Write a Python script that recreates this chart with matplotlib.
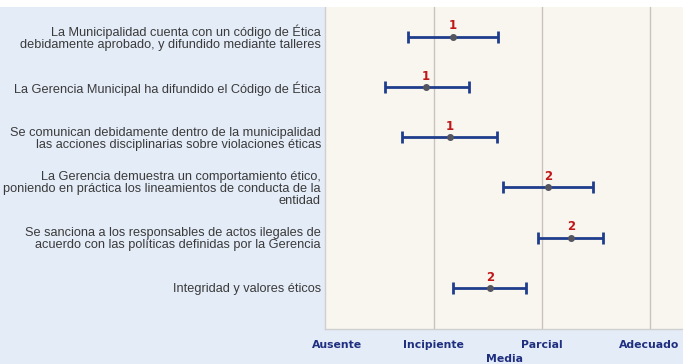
import matplotlib
matplotlib.use("Agg")
import matplotlib.pyplot as plt
import matplotlib.transforms as mtransforms
from matplotlib.patches import Rectangle

categories = [
    "La Municipalidad cuenta con un código de Ética\ndebidamente aprobado, y difundido mediante talleres",
    "La Gerencia Municipal ha difundido el Código de Ética",
    "Se comunican debidamente dentro de la municipalidad\nlas acciones disciplinarias sobre violaciones éticas",
    "La Gerencia demuestra un comportamiento ético,\nponiendo en práctica los lineamientos de conducta de la\nentidad",
    "Se sanciona a los responsables de actos ilegales de\nacuerdo con las políticas definidas por la Gerencia",
    "Integridad y valores éticos",
]
means = [1.18, 0.93, 1.15, 2.06, 2.27, 1.52]
lower = [0.76, 0.55, 0.71, 1.64, 1.97, 1.18]
upper = [1.60, 1.33, 1.59, 2.48, 2.57, 1.86]
point_labels = ["1", "1", "1", "2", "2", "2"]
tick_values = [0, 1, 2, 3]
tick_labels = ["Ausente", "Incipiente", "Parcial", "Adecuado"]

fig = plt.figure(figsize=(6.83, 3.64), dpi=100, facecolor="#e4ecf8")
fig.patches.append(Rectangle((0, 0.981), 1, 0.02, transform=fig.transFigure,
                             facecolor="white", edgecolor="none", zorder=0))
ax = fig.add_axes([0.476, 0.096, 0.524, 0.885])
ax.set_facecolor("#f9f6ef")

ypos = list(range(len(categories)))
for y, m, lo, hi, lab in zip(ypos, means, lower, upper, point_labels):
    ax.errorbar([m], [y], xerr=[[m - lo], [hi - m]], fmt="none",
                ecolor="#1f3d8c", elinewidth=2, capsize=4, capthick=2, zorder=3)
    ax.plot([m], [y], "o", color="#555560", markersize=4, zorder=4)
    ax.annotate(lab, (m, y), xytext=(0, 3), textcoords="offset points",
                ha="center", va="bottom", color="#c01818", fontsize=8.5,
                fontweight="bold", zorder=5)

for v in tick_values[1:]:
    ax.axvline(v, color="#c8c4bc", lw=1, zorder=1)

ax.set_xlim(-0.005, 3.31)
ax.set_ylim(5.82, -0.59)
ax.set_yticks(ypos)
ax.set_yticklabels(categories, fontsize=9.2, color="#3a3a3a",
                   family="Liberation Sans", linespacing=1.0)
ax.set_xticks(tick_values)
ax.set_xticklabels(tick_labels, fontsize=7.8, fontweight="bold",
                   color="#1f2f80", family="DejaVu Sans")
ax.tick_params(axis="both", length=0)
ax.tick_params(axis="y", pad=3)
ax.tick_params(axis="x", pad=8)
ax.set_xlabel("Media", fontsize=7.8, fontweight="bold", color="#1f2f80", labelpad=3)

# shift first x tick label slightly right as in reference
offset = mtransforms.ScaledTranslation(11 / 100, 0, fig.dpi_scale_trans)
first = ax.get_xticklabels()[0]
first.set_transform(first.get_transform() + offset)

for side in ["top", "right"]:
    ax.spines[side].set_visible(False)
for side in ["left", "bottom"]:
    ax.spines[side].set_color("#cfcfcf")
    ax.spines[side].set_linewidth(1)

fig.savefig("out.png", dpi=100, facecolor=fig.get_facecolor())
